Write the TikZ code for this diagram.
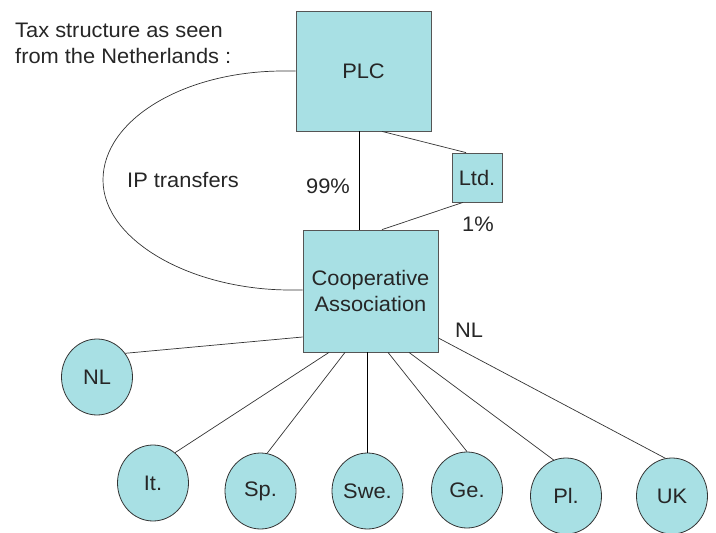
\documentclass[tikz,border=0pt]{standalone}
\usepackage{fontspec}
\setmainfont{Liberation Sans}[FakeStretch=1.04]
\usetikzlibrary{shapes.geometric,calc}
\definecolor{aqua}{RGB}{168,224,228}
\definecolor{edgegray}{RGB}{85,85,85}
\begin{document}
\begin{tikzpicture}[x=1pt,y=-1pt,
  every node/.style={font=\fontsize{21}{26}\selectfont, inner sep=0pt, text=black!85},
  box/.style={draw=edgegray, fill=aqua, line width=0.8pt, align=center},
  country/.style={ellipse, draw=black!80, fill=aqua, line width=0.8pt, minimum width=71pt, minimum height=76pt},
  link/.style={draw=black!80, line width=0.7pt},
  mainlink/.style={draw=black, line width=1pt},
  lbl/.style={anchor=base west}]
\useasboundingbox (0,0) rectangle (716,533);
% title
\node[lbl] (t1) at (15,37) {Tax structure as seen};
\node[lbl] (t2) at (15,63) {from the Netherlands :};
% boxes
\node[box, minimum width=135pt, minimum height=120pt] (PLC) at (363.5,71) {PLC};
\node[box, minimum width=50pt, minimum height=49pt] (Ltd) at (477,177.5) {Ltd.};
\node[box, minimum width=135pt, minimum height=122pt] (Coop) at (370.5,291) {Cooperative\\Association};
% countries
\node[country] (NL) at (97,377) {NL};
\node[country] (It) at (153,483) {It.};
\node[country] (Sp) at (260.5,491) {Sp.};
\node[country] (Swe) at (367.5,491) {Swe.};
\node[country] (Ge) at (467,490) {Ge.};
\node[country] (Pl) at (566,496) {Pl.};
\node[country] (UK) at (672,496) {UK};
% labels
\node[lbl] (ip) at (127,187) {IP transfers};
\node[lbl] (p99) at (306,193) {99\%};
\node[lbl] (p1) at (462,231) {1\%};
\node[lbl] (nl) at (455,337) {NL};
% ownership
\draw[mainlink] ($(PLC.south)+(-4.5,0)$) -- ($(Coop.north)+(-11.5,0)$);
\draw[link] ($(PLC.south)+(18.5,0)$) -- ($(Ltd.north)+(-11,0)$);
\draw[link] ($(Ltd.south)+(-14,0)$) -- ($(Coop.north)+(11.5,0)$);
% IP transfers loop
\coordinate (L) at (103,180);
\draw[link] (PLC.west) -- ++(-12,0) .. controls +(-100,0) and +(0,-60) .. (L)
  .. controls +(0,60) and +(-100,0) .. ($(Coop.west)+(-12,-1)$) -- ($(Coop.west)+(0,-1)$);
% subsidiaries
\draw[link] ($(Coop.west)+(0,46)$) -- (NL.40);
\draw[link] ($(Coop.south)+(-41.5,0)$) -- (It.54);
\draw[link] ($(Coop.south)+(-25.5,0)$) -- (Sp.80);
\draw[mainlink] (Swe.north |- Coop.south) -- (Swe.north);
\draw[link] ($(Coop.south)+(17.5,0)$) -- (Ge.north);
\draw[link] ($(Coop.south)+(38.5,0)$) -- (Pl.109);
\draw[link] ($(Coop.east)+(0,47)$) -- (UK.100);
\end{tikzpicture}
\end{document}
